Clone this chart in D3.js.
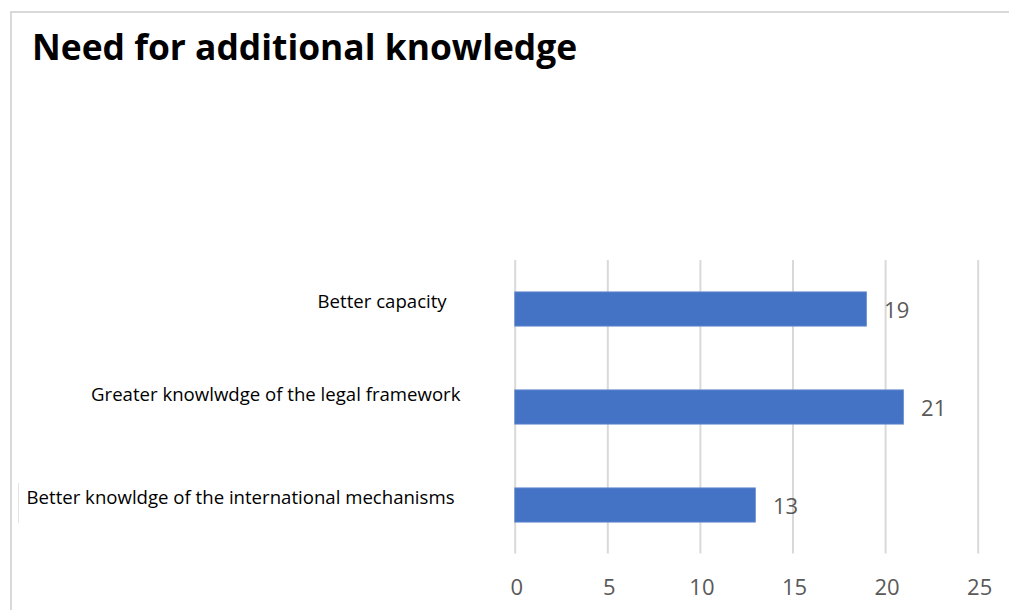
<!DOCTYPE html>
<html>
<head>
<meta charset="utf-8">
<script src="https://cdn.jsdelivr.net/npm/d3@7"></script>
<style>
  html, body { margin: 0; padding: 0; background: #fff; }
  svg { display: block; }
</style>
</head>
<body>
<svg id="chart" width="1009" height="610"></svg>
<script>
// Survey responses: need for additional knowledge
const categories = [
  "Better capacity",
  "Greater knowlwdge of the legal framework",
  "Better knowldge of the international mechanisms"
];
const counts = [19, 21, 13];
const tickValues = [0, 5, 10, 15, 20, 25];
const title = "Need for additional knowledge";

// Per-label placement tweaks: right edge of each category label and baseline shift
const labelRight = [446.7, 460.5, 454.5];
const labelShift = [-1.5, -5.7, -0.6];

const svg = d3.select("#chart");
const W = 1009, H = 610;

// Outer frame (top and left edges visible)
svg.append("line")
  .attr("x1", 10).attr("x2", W).attr("y1", 12).attr("y2", 12)
  .attr("stroke", "#d9d9d9").attr("stroke-width", 2);
svg.append("line")
  .attr("x1", 11).attr("x2", 11).attr("y1", 12).attr("y2", H)
  .attr("stroke", "#d9d9d9").attr("stroke-width", 2);
svg.append("line")
  .attr("x1", 18.5).attr("x2", 18.5).attr("y1", 483).attr("y2", 523)
  .attr("stroke", "#e4e4e4").attr("stroke-width", 1);

// Title
svg.append("text")
  .attr("x", 32).attr("y", 59.5)
  .attr("font-family", "'Open Sans', sans-serif")
  .attr("font-weight", 700)
  .attr("font-size", 35.4)
  .attr("fill", "#000")
  .text(title);

// Scales
const x = d3.scaleLinear().domain([0, 25]).range([514.7, 977.7]);
const y = d3.scaleBand().domain(categories).range([260, 554])
  .paddingInner(0.65).paddingOuter(0.325);

// Vertical gridlines
svg.append("g")
  .attr("transform", "translate(0,553.5)")
  .call(d3.axisBottom(x).tickValues(tickValues).tickSize(-293.5).tickFormat(""))
  .call(g => g.select(".domain").remove())
  .call(g => g.selectAll(".tick line").attr("stroke", "#d9d9d9").attr("stroke-width", 2));

// Tick labels
svg.append("g")
  .attr("transform", "translate(1.5,587)")
  .call(d3.axisBottom(x).tickValues(tickValues).tickSize(0).tickPadding(0))
  .call(g => g.select(".domain").remove())
  .call(g => g.selectAll(".tick text")
    .attr("dy", "0.36em")
    .attr("font-family", "'Open Sans', sans-serif")
    .attr("font-size", 22)
    .attr("fill", "#595959"));

// Bars
svg.append("g").selectAll("rect")
  .data(categories)
  .join("rect")
  .attr("x", x(0))
  .attr("y", d => y(d))
  .attr("width", (d, i) => x(counts[i]) - x(0))
  .attr("height", y.bandwidth())
  .attr("fill", "#4472c4")
  .attr("stroke", "#6f93d3")
  .attr("stroke-width", 0.8);

// Value labels
svg.append("g").selectAll("text")
  .data(categories)
  .join("text")
  .attr("x", (d, i) => x(counts[i]) + 17.5)
  .attr("y", d => y(d) + y.bandwidth() / 2 + 1)
  .attr("dy", "0.36em")
  .attr("font-family", "'Open Sans', sans-serif")
  .attr("font-size", 22)
  .attr("fill", "#595959")
  .text((d, i) => counts[i]);

// Category labels
svg.append("g").selectAll("text")
  .data(categories)
  .join("text")
  .attr("x", (d, i) => labelRight[i])
  .attr("y", (d, i) => y(d) + y.bandwidth() / 2 + labelShift[i])
  .attr("text-anchor", "end")
  .attr("font-family", "'Open Sans', sans-serif")
  .attr("font-size", 18.6)
  .attr("fill", "#000")
  .text(d => d);
</script>
</body>
</html>
